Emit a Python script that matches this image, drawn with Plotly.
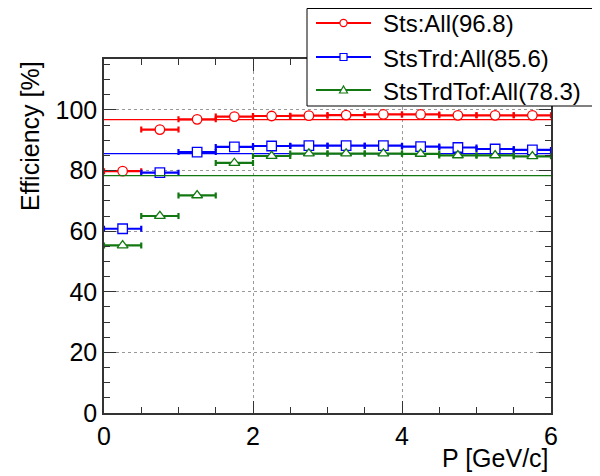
import plotly.graph_objects as go

# bin centres [GeV/c] and half widths
p_centers = [0.25, 0.75, 1.25, 1.75, 2.25, 2.75, 3.25, 3.75, 4.25, 4.75, 5.25, 5.75]
p_halfwidth = [0.25] * 12

eff_sts = [79.8, 93.5, 96.9, 97.8, 98.0, 98.1, 98.3, 98.5, 98.5, 98.2, 98.2, 98.2]
eff_ststrd = [60.8, 79.3, 86.1, 87.8, 88.1, 88.2, 88.2, 88.2, 87.9, 87.6, 87.1, 86.8]
eff_ststrdtof = [55.3, 65.0, 71.8, 82.5, 84.8, 85.6, 85.6, 85.6, 85.5, 85.0, 85.0, 84.7]

series_names = ["Sts", "StsTrd", "StsTrdTof"]
series_avg = [96.8, 85.6, 78.3]
series_colors = ["#ff0000", "#0000ff", "#127812"]
series_symbols = ["circle", "square", "triangle-up"]
series_values = [eff_sts, eff_ststrd, eff_ststrdtof]

x_range = [0, 6]
y_range = [0, 116.8]

FONT = "Liberation Sans, Arial, Helvetica, sans-serif"

# page has an 8px body margin; figure is sized so it fits the window
OFF = 8
W, H = 600 - OFF, 476 - OFF
PL, PR, PT, PB = 104, 551, 59, 413  # plot area in page pixels


def px(xp):
    return (xp - PL) / (PR - PL)


def py(yp):
    return (PB - yp) / (PB - PT)


fig = go.Figure()

for name, avg, col, sym, vals in zip(series_names, series_avg, series_colors,
                                     series_symbols, series_values):
    fig.add_trace(go.Scatter(
        x=x_range, y=[avg, avg], mode="lines",
        line=dict(color=col, width=1.2), showlegend=False, hoverinfo="skip"))
    fig.add_trace(go.Scatter(
        x=p_centers, y=vals, mode="markers", name=f"{name}:All({avg})",
        marker=dict(symbol=sym, size=9.5, color="white",
                    line=dict(color=col, width=1.3)),
        error_x=dict(type="data", array=p_halfwidth, symmetric=True,
                     color=col, thickness=2.2, width=3),
        showlegend=False))

axis_common = dict(
    showline=True, linecolor="#333333", linewidth=1.5, mirror="ticks",
    ticks="inside", ticklen=12, tickwidth=1.3, tickcolor="#333333",
    showgrid=True, gridcolor="#999999", griddash="dot", gridwidth=1,
    zeroline=False,
    tickfont=dict(family=FONT, size=25, color="black"),
)

fig.update_xaxes(range=x_range, dtick=2, tick0=0,
                 minor=dict(dtick=0.5, ticks="inside", ticklen=6,
                            tickcolor="#333333", showgrid=False),
                 **axis_common)
fig.update_yaxes(range=y_range, dtick=20, tick0=0,
                 minor=dict(dtick=5, ticks="inside", ticklen=6,
                            tickcolor="#333333", showgrid=False),
                 **axis_common)

# ---- legend drawn as layout decorations ----
shapes = [dict(type="rect", xref="paper", yref="paper",
               x0=px(307), x1=px(598), y0=py(106), y1=py(8.5),
               line=dict(color="black", width=1), fillcolor="white",
               layer="above")]
annotations = []
row_y = [23, 57, 90]
marker_paths = {
    "circle": None,
    "square": "M-3.5,-3.5 L3.5,-3.5 L3.5,3.5 L-3.5,3.5 Z",
    "triangle-up": "M-4,-3 L4,-3 L0,4 Z",
}
for name, avg, col, sym, ry in zip(series_names, series_avg, series_colors,
                                    series_symbols, row_y):
    shapes.append(dict(type="line", xref="paper", yref="paper",
                       x0=px(316), x1=px(371), y0=py(ry), y1=py(ry),
                       line=dict(color=col, width=2), layer="above"))
    if sym == "circle":
        shapes.append(dict(type="circle", xref="paper", yref="paper",
                           xsizemode="pixel", ysizemode="pixel",
                           xanchor=px(343.5), yanchor=py(ry),
                           x0=-3.6, x1=3.6, y0=-3.6, y1=3.6,
                           line=dict(color=col, width=1.2),
                           fillcolor="white", layer="above"))
    else:
        shapes.append(dict(type="path", xref="paper", yref="paper",
                           xsizemode="pixel", ysizemode="pixel",
                           xanchor=px(343.5), yanchor=py(ry),
                           path=marker_paths[sym],
                           line=dict(color=col, width=1.2),
                           fillcolor="white", layer="above"))
    annotations.append(dict(text=f"{name}:All({avg})", xref="paper",
                            yref="paper", x=px(381), y=py(ry + 1),
                            xanchor="left", yanchor="middle",
                            showarrow=False,
                            font=dict(family=FONT, size=24, color="black")))

annotations += [
    dict(text="Efficiency [%]", xref="paper", yref="paper",
         x=px(30), y=1.0, xanchor="center", yanchor="top",
         textangle=-90, showarrow=False,
         font=dict(family=FONT, size=25, color="black")),
    dict(text="P [GeV/c]", xref="paper", yref="paper",
         x=px(551), y=py(458), xanchor="right", yanchor="middle",
         showarrow=False,
         font=dict(family=FONT, size=25, color="black")),
]

fig.update_layout(
    width=W, height=H,
    margin=dict(l=PL - OFF, r=W - (PR - OFF), t=PT - OFF, b=H - (PB - OFF),
                autoexpand=False),
    plot_bgcolor="white", paper_bgcolor="white",
    font=dict(family=FONT, color="black"),
    showlegend=False,
    shapes=shapes,
    annotations=annotations,
)

fig.write_html("out.html")
